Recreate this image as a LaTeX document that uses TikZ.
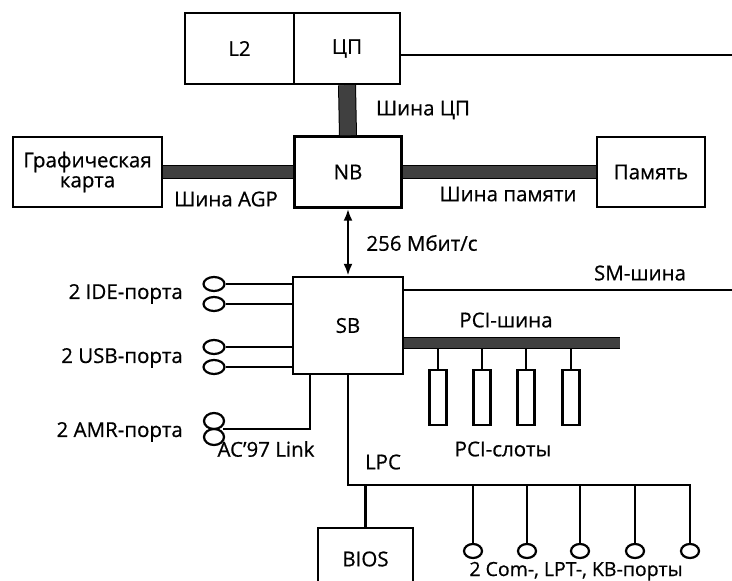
\documentclass[tikz,border=0pt]{standalone}
\usepackage{fontspec}
\setmainfont{Open Sans}[FakeBold=0.6]
\usetikzlibrary{arrows.meta,shapes.geometric}
\begin{document}
\begin{tikzpicture}[x=1pt,y=-1pt,
  box/.style={draw, line width=2.4pt, fill=white, inner sep=0pt},
  lbl/.style={font=\fontsize{20.5}{23}\selectfont, inner sep=0pt},
  wire/.style={line width=2.2pt},
  bus/.style={draw=black, line width=1pt, double=black!75, double distance=12pt},
  port/.style={draw, ellipse, line width=2.2pt, minimum width=21pt, minimum height=14pt, inner sep=0pt},
  slot/.style={draw, line width=2.4pt, minimum width=17pt, minimum height=55pt, inner sep=0pt}
]
\useasboundingbox (0,0) rectangle (732,581);
\clip (0,0) rectangle (732,581);

% boxes
\node[box, lbl, minimum width=109pt, minimum height=71pt] (l2) at (239.5,48.5) {L2};
\node[box, lbl, minimum width=106pt, minimum height=71pt] (cpu) at (347,48.5) {ЦП};
\node[box, lbl, minimum width=149pt, minimum height=70pt, align=center] (gc) at (87.5,172) {Графическая\\[-3pt]карта};
\node[box, lbl, minimum width=107pt, minimum height=71pt] (nb) at (348,172) {NB};
\node[box, lbl, minimum width=108pt, minimum height=70pt] (mem) at (651,172) {Память};
\node[box, lbl, minimum width=110pt, minimum height=97pt] (sb) at (348,325.5) {SB};
\node[box, lbl, minimum width=95pt, minimum height=62pt] (bios) at (365.5,559) {BIOS};

% buses
\draw[bus, double distance=16pt] (cpu.south) -- (nb.north);
\draw[bus] (gc.east) -- (nb.west);
\draw[bus] (nb.east) -- (mem.west);
\coordinate (pciend) at (620,343);
\draw[bus, double distance=10pt] (sb.east |- pciend) -- (pciend);

% CPU line and SM bus
\coordinate (cpuend) at (732,55);
\draw[wire] (cpu.east |- cpuend) -- (cpuend);
\coordinate (smend) at (732,290);
\draw[wire] (sb.east |- smend) -- (smend);

% NB-SB link
\draw[line width=2.6pt, {Latex[length=12pt,width=9pt]}-{Latex[length=12pt,width=9pt]}] (nb.south) -- (sb.north);

% PCI slots
\coordinate (pcib) at (0,349);
\foreach \i/\x in {1/438,2/482,3/526,4/571}{
  \node[slot] (s\i) at (\x,397.5) {};
  \draw[wire] (s\i.north |- pcib) -- (s\i.north);
}

% IDE and USB ports
\foreach \n/\y in {ide1/284,ide2/304,usb1/347,usb2/367}{
  \node[port] (\n) at (214,\y) {};
  \draw[wire] (\n.east) -- (\n.east -| sb.west);
}

% AMR ports
\node[port, minimum width=20pt, minimum height=16pt] (amr1) at (214,421) {};
\node[port, minimum width=20pt, minimum height=16pt] (amr2) at (214,437) {};
\coordinate (amrj) at (223,429);
\coordinate (acp) at (310,0);
\draw[wire] (amrj) -| (acp |- sb.south);

% LPC
\coordinate (lpcc) at (348,485);
\coordinate (lpce) at (691,485);
\draw[wire] (sb.south) -- (lpcc) -- (lpce);
\draw[wire] (bios.north |- lpcc) -- (bios.north);
\foreach \i/\x in {1/473,2/527,3/580,4/635,5/690}{
  \node[port, minimum width=18pt, minimum height=14pt] (p\i) at (\x,551) {};
  \draw[wire] (p\i.north |- lpcc) -- (p\i.north);
}

% labels
\node[lbl] (tcpubus) at (423,110) {Шина ЦП};
\node[lbl] (tagp) at (226,199) {Шина AGP};
\node[lbl] (tmem) at (508,194) {Шина памяти};
\node[lbl] (tlink) at (422,243) {256 Мбит/с};
\node[lbl] (tsm) at (640,273) {SM-шина};
\node[lbl] (tpci) at (506,320) {PCI-шина};
\node[lbl] (tslots) at (503,449) {PCI-слоты};
\node[lbl, anchor=east] (tide) at (183,294) {2 IDE-порта};
\node[lbl, anchor=east] (tusb) at (183,358) {2 USB-порта};
\node[lbl, anchor=east] (tamr) at (183,432) {2 AMR-порта};
\node[lbl] (tac) at (266,449) {AC’97 Link};
\node[lbl] (tlpc) at (383,462) {LPC};
\node[lbl, font=\fontsize{19.5}{22}\selectfont, anchor=base] (tports) at (576,576) {2 Com-, LPT-, KB-порты};
\end{tikzpicture}
\end{document}
